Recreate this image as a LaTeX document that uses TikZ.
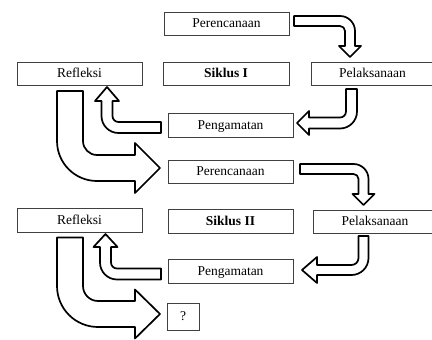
\documentclass[tikz,border=0pt]{standalone}
\usepackage{fontspec}
\setmainfont{Liberation Serif}
\begin{document}
\begin{tikzpicture}[x=1pt,y=-1pt,
  box/.style={draw=black!75, line width=0.8pt, fill=white, minimum height=23pt, minimum width=125pt, inner sep=0pt,
    text height=10.5pt, text depth=2.5pt, font=\fontsize{13.5pt}{15pt}\selectfont},
  blk/.style={draw=black, line width=1.7pt, fill=white, line join=round}]
\useasboundingbox (0,0) rectangle (432,340);
% boxes
\node[box] (per1) at (226.5,23.5) {Perencanaan};
\node[box] (ref1) at (79.5,73.5) {Refleksi};
\node[box, minimum width=126pt] (sik1) at (226,73.5) {\textbf{Siklus I}};
\node[box, minimum width=123pt] (pel1) at (372.5,73.5) {Pelaksanaan};
\node[box, minimum height=24pt] (pen1) at (230.5,125) {Pengamatan};
\node[box] (per2) at (230.5,171.5) {Perencanaan};
\node[box, minimum height=24pt] (ref2) at (79.5,220) {Refleksi};
\node[box, minimum height=24pt] (sik2) at (230.5,221) {\textbf{Siklus II}};
\node[box, minimum width=124pt] (pel2) at (375,221.5) {Pelaksanaan};
\node[box, minimum height=24pt] (pen2) at (230.5,271) {Pengamatan};
\node[box, minimum width=32pt, minimum height=27pt] (q) at (183,316.5) {?};
% block arrows
\draw[blk] (294,16) -- (340,16) arc[start angle=90, end angle=0, radius=15pt] -- (355,46) -- (361,46) -- (350,57) -- (339,46) -- (345,46) -- (345,31) arc[start angle=0, end angle=90, radius=5pt] -- (294,26) -- cycle;
\draw[blk] (346,89) -- (357,89) -- (357,111.5) arc[start angle=0, end angle=-90, radius=17pt] -- (309,128.5) -- (309,135) -- (297,123) -- (309,111) -- (309,117.5) -- (340,117.5) arc[start angle=-90, end angle=0, radius=6pt] -- cycle;
\draw[blk] (161,122) -- (161,133) -- (118.5,133) arc[start angle=-90, end angle=-180, radius=17pt] -- (101.5,101) -- (95,101) -- (107,87) -- (119,101) -- (112.5,101) -- (112.5,116) arc[start angle=180, end angle=270, radius=6pt] -- cycle;
\draw[blk] (57,91) -- (83,91) -- (83,141) arc[start angle=180, end angle=270, radius=14pt] -- (135,155) -- (135,143) -- (160,168) -- (135,193) -- (135,181) -- (97,181) arc[start angle=-90, end angle=-180, radius=40pt] -- cycle;
\draw[blk] (300,164) -- (353.5,164) arc[start angle=90, end angle=0, radius=15pt] -- (368.5,194) -- (374.5,194) -- (363.5,205) -- (352.5,194) -- (358.5,194) -- (358.5,179) arc[start angle=0, end angle=90, radius=5pt] -- (300,174) -- cycle;
\draw[blk] (358.5,236) -- (368.5,236) -- (368.5,258) arc[start angle=0, end angle=-90, radius=17pt] -- (317,275) -- (317,283) -- (302,270) -- (317,257) -- (317,265) -- (351.5,265) arc[start angle=-90, end angle=0, radius=7pt] -- cycle;
\draw[blk] (161,268.5) -- (161,279.5) -- (117,279.5) arc[start angle=-90, end angle=-180, radius=17pt] -- (100,247) -- (93.5,247) -- (105.5,234) -- (117.5,247) -- (111,247) -- (111,262.5) arc[start angle=180, end angle=270, radius=6pt] -- cycle;
\draw[blk] (57,237.5) -- (83,237.5) -- (83,286) arc[start angle=180, end angle=270, radius=15pt] -- (135,301) -- (135,289.5) -- (160,314) -- (135,338.5) -- (135,327) -- (98,327) arc[start angle=-90, end angle=-180, radius=41pt] -- cycle;
\end{tikzpicture}
\end{document}
